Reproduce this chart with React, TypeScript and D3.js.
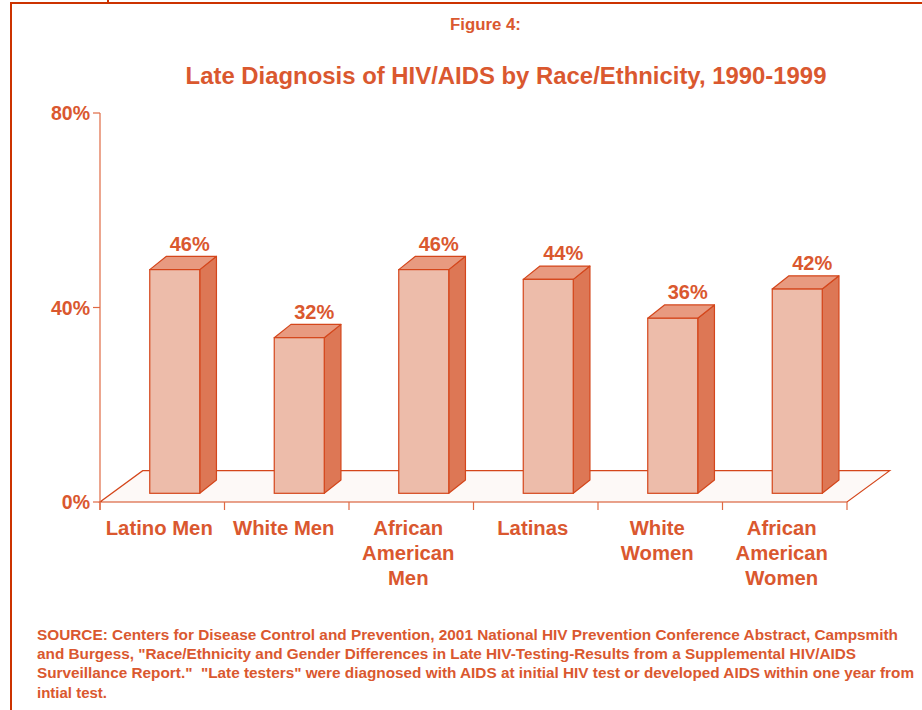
import React from "react";
import * as d3 from "d3";

const categories: string[][] = [
  ["Latino Men"],
  ["White Men"],
  ["African", "American", "Men"],
  ["Latinas"],
  ["White", "Women"],
  ["African", "American", "Women"],
];
const values: number[] = [46, 32, 46, 44, 36, 42];
const yTicks: number[] = [0, 40, 80];
const figureLabel = "Figure 4:";
const title = "Late Diagnosis of HIV/AIDS by Race/Ethnicity, 1990-1999";
const sourceLines: string[] = [
  "SOURCE: Centers for Disease Control and Prevention, 2001 National HIV Prevention Conference Abstract, Campsmith",
  "and Burgess, \"Race/Ethnicity and Gender Differences in Late HIV-Testing-Results from a Supplemental HIV/AIDS",
  "Surveillance Report.\"  \"Late testers\" were diagnosed with AIDS at initial HIV test or developed AIDS within one year from",
  "intial test.",
];
const sourceWidths: (number | undefined)[] = [861, 819, 877, undefined];

const W = 922;
const H = 710;
const FONT = "'Liberation Sans', Arial, Helvetica, sans-serif";
const TEXT = "#da582f";
const STROKE = "#d4461b";
const AXIS = "#e06a44";
const FRONT = "#edbcaa";
const SIDE = "#dd7755";
const TOP = "#e89a80";
const FLOOR = "#fdf9f7";
const FRAME = "#cc3300";

export default function App() {
  const keys = categories.map((c) => c.join(" "));
  const x = d3.scaleBand<string>().domain(keys).range([100, 847]).padding(0);
  const y = d3.scaleLinear().domain([0, 80]).range([502, 113]);
  const bw = x.bandwidth();

  // 3D geometry
  const floorDx = 42.7;
  const floorDy = 31.3;
  const barInsetY = 8.7;
  const barShiftX = 12.5;
  const barW = 50;
  const dDx = 16.7;
  const dDy = 13.3;

  const y0 = y(0);
  const floorPts = [
    [x.range()[0], y0],
    [x.range()[1], y0],
    [x.range()[1] + floorDx, y0 - floorDy],
    [x.range()[0] + floorDx, y0 - floorDy],
  ];

  const boundaries = [...keys.map((k) => x(k)!), x.range()[1]];

  return (
    <svg
      width={W}
      height={H}
      viewBox={`0 0 ${W} ${H}`}
      style={{ position: "absolute", left: 0, top: 0, background: "#fff" }}
      fontFamily={FONT}
      fontWeight="bold"
    >
      {/* frame */}
      <path d={`M11,${H} V3 H${W}`} fill="none" stroke={FRAME} strokeWidth={2} />
      <line x1={108} y1={0} x2={108} y2={3} stroke={FRAME} strokeWidth={2} />

      <text x={485.5} y={30} textAnchor="middle" fontSize={16.8} fill={TEXT}>
        {figureLabel}
      </text>
      <text x={506} y={84} textAnchor="middle" fontSize={23.9} fill={TEXT}>
        {title}
      </text>

      {/* floor */}
      <polygon
        points={floorPts.map((p) => p.join(",")).join(" ")}
        fill={FLOOR}
        stroke={STROKE}
        strokeWidth={1.2}
      />

      {/* y axis */}
      <line x1={100} y1={y(80)} x2={100} y2={y0 + 8} stroke={AXIS} strokeWidth={1.2} />
      {yTicks.map((t) => (
        <g key={t}>
          <line x1={93} x2={100} y1={y(t)} y2={y(t)} stroke={AXIS} strokeWidth={1.2} />
          <text x={90} y={y(t) + 7} textAnchor="end" fontSize={19.5} fill={TEXT}>
            {t}%
          </text>
        </g>
      ))}

      {/* category ticks */}
      {boundaries.map((b, i) => (
        <line key={i} x1={b} x2={b} y1={y0} y2={y0 + 8} stroke={AXIS} strokeWidth={1.2} />
      ))}

      {/* bars */}
      {keys.map((k, i) => {
        const v = values[i];
        const left = x(k)! + bw / 2 + barShiftX - barW / 2;
        const right = left + barW;
        const bottom = y0 - barInsetY;
        const top = bottom - (y0 - y(v));
        const side = `M${right},${top} L${right + dDx},${top - dDy} L${right + dDx},${bottom - dDy} L${right},${bottom} Z`;
        const topFace = `M${left},${top} L${left + dDx},${top - dDy} L${right + dDx},${top - dDy} L${right},${top} Z`;
        return (
          <g key={k}>
            <path d={side} fill={SIDE} stroke={STROKE} strokeWidth={1.2} strokeLinejoin="round" />
            <path d={topFace} fill={TOP} stroke={STROKE} strokeWidth={1.2} strokeLinejoin="round" />
            <rect x={left} y={top} width={barW} height={bottom - top} fill={FRONT} stroke={STROKE} strokeWidth={1.2} />
            <text x={left + 40} y={top - 19} textAnchor="middle" fontSize={20} fill={TEXT}>
              {v}%
            </text>
          </g>
        );
      })}

      {/* category labels */}
      {categories.map((lines, i) => (
        <text key={i} textAnchor="middle" fontSize={20.3} fill={TEXT}>
          {lines.map((l, j) => (
            <tspan key={j} x={x(keys[i])! + bw / 2 - 3} y={535 + j * 25}>
              {l}
            </tspan>
          ))}
        </text>
      ))}

      {/* source */}
      {sourceLines.map((l, i) => (
        <text
          key={i}
          x={37}
          y={639.8 + i * 19.3}
          fontSize={15}
          fill={TEXT}
          style={{ whiteSpace: "pre" }}
          textLength={sourceWidths[i]}
          lengthAdjust={sourceWidths[i] ? "spacingAndGlyphs" : undefined}
        >
          {l}
        </text>
      ))}
    </svg>
  );
}
